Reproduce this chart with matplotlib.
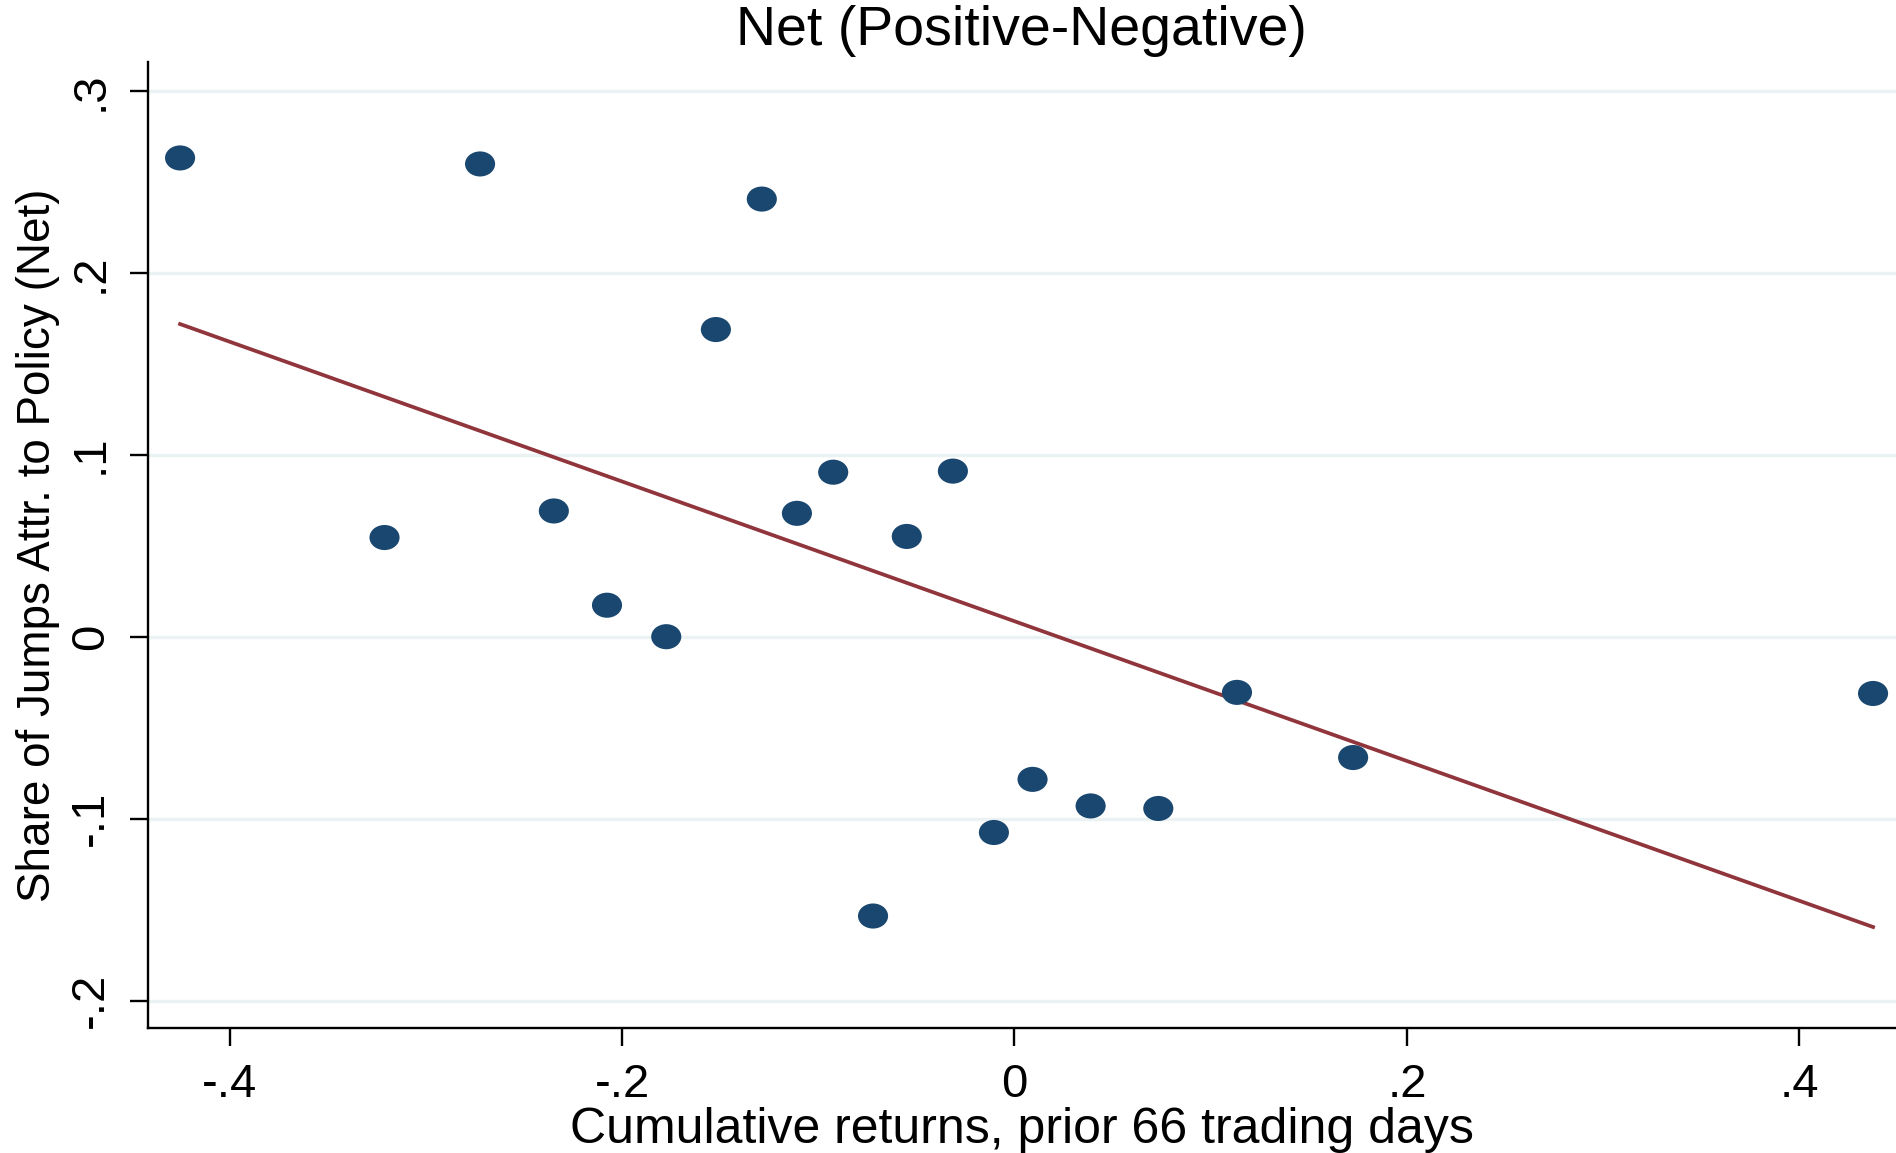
import matplotlib
matplotlib.use("Agg")
import matplotlib.pyplot as plt
from matplotlib.path import Path
import numpy as np

plt.rcParams['font.family'] = ['Liberation Sans', 'DejaVu Sans']

cum_returns = [-0.4253, -0.2724, -0.1288, -0.1522, -0.3211, -0.2348, -0.2077,
               -0.1775, -0.1109, -0.0924, -0.0549, -0.0314, -0.0721, -0.0105,
               0.0092, 0.0388, 0.0733, 0.1134, 0.1726, 0.4376]
share_net = [0.2631, 0.2598, 0.2405, 0.1688, 0.0545, 0.0691, 0.0173,
             0.0000, 0.0678, 0.0904, 0.0551, 0.0910, -0.1535, -0.1076,
             -0.0784, -0.0930, -0.0944, -0.0306, -0.0664, -0.0312]
fit_intercept = 0.0085
fit_slope = -0.384

x_ticks = [-0.4, -0.2, 0.0, 0.2, 0.4]
x_tick_labels = ['-.4', '-.2', '0', '.2', '.4']
y_ticks = [-0.2, -0.1, 0.0, 0.1, 0.2, 0.3]
y_tick_labels = ['-.2', '-.1', '0', '.1', '.2', '.3']

# slightly wide ellipse marker
circ = Path.unit_circle()
ellipse = Path(circ.vertices * np.array([1.2, 1.0]), circ.codes)

fig = plt.figure(figsize=(18.96, 11.53), dpi=100)
ax = fig.add_axes([0.0778, 0.108, 0.9222, 0.8385])

for yv in y_ticks:
    ax.axhline(yv, color='#eaf2f3', lw=2.4, zorder=0)

ax.scatter(cum_returns, share_net, s=470, marker=ellipse, color='#1a476f',
           edgecolors='none', zorder=3)
xs = np.array([min(cum_returns), max(cum_returns)])
ax.plot(xs, fit_intercept + fit_slope * xs, color='#90353b', lw=2.7, zorder=2)

ax.set_xlim(-0.4419, 0.4493)
ax.set_ylim(-0.2153, 0.316)
ax.set_xticks(x_ticks)
ax.set_xticklabels(x_tick_labels)
ax.set_yticks(y_ticks)
ax.set_yticklabels(y_tick_labels, rotation=90, va='center')

for s in ['top', 'right']:
    ax.spines[s].set_visible(False)
for s in ['left', 'bottom']:
    ax.spines[s].set_linewidth(1.7)
ax.tick_params(axis='both', labelsize=34, width=1.7, length=13, pad=12)

ax.set_xlabel('Cumulative returns, prior 66 trading days', fontsize=36, labelpad=0)
ax.set_ylabel('Share of Jumps Attr. to Policy (Net)', fontsize=33, labelpad=6)
ax.set_title('Net (Positive-Negative)', fontsize=40, pad=12)

fig.savefig('out.png', dpi=100)
